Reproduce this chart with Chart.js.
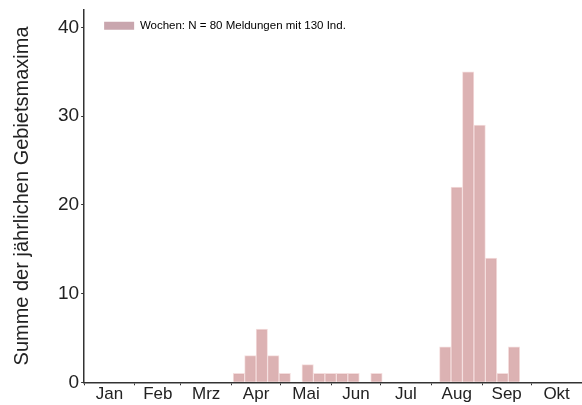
<!DOCTYPE html>
<html>
<head>
<meta charset="utf-8">
<script src="https://cdn.jsdelivr.net/npm/chart.js@4"></script>
<style>
  html, body { margin: 0; padding: 0; background: #fff; }
  #wrap { width: 582px; height: 405px; }
</style>
</head>
<body>
<div id="wrap"><canvas id="grafico"></canvas></div>
<script>
// ---- Daten ----
const monate = ["Jan", "Feb", "Mrz", "Apr", "Mai", "Jun", "Jul", "Aug", "Sep", "Okt"];
const monatsTage = [31, 28, 31, 30, 31, 30, 31, 31, 30, 31];
const wochen = [13, 14, 15, 16, 17, 19, 20, 21, 22, 23, 25, 31, 32, 33, 34, 35, 36, 37];
const summen = [1, 3, 6, 3, 1, 2, 1, 1, 1, 1, 1, 4, 22, 35, 29, 14, 1, 4];
const yTicks = [0, 10, 20, 30, 40];
const legendeText = "Wochen: N = 80 Meldungen mit 130 Ind.";
const yTitel = "Summe der jährlichen Gebietsmaxima";

// Monatsgrenzen und -mitten in Tagen
let grenzen = [0];
monatsTage.forEach(t => grenzen.push(grenzen[grenzen.length - 1] + t));
let mitten = monate.map((m, i) => (grenzen[i] + grenzen[i + 1]) / 2);
let ende = grenzen[grenzen.length - 1];

let punkte = wochen.map((w, i) => ({ x: w * 7 + 3.5, y: summen[i] }));

const schrift = "'Liberation Sans', Arial, sans-serif";

new Chart(document.getElementById("grafico"), {
    type: "bar",
    data: {
        datasets: [{
            label: legendeText,
            data: punkte,
            backgroundColor: "rgba(214,164,166,0.85)",
            borderColor: "rgba(244,222,222,1)",
            borderWidth: 1,
            barPercentage: 1,
            categoryPercentage: 1
        }]
    },
    options: {
        responsive: true,
        maintainAspectRatio: false,
        animation: false,
        layout: { padding: { left: 10, right: 0, top: 0, bottom: 1 } },
        plugins: {
            tooltip: { enabled: false },
            legend: {
                position: "chartArea",
                align: "start",
                labels: {
                    boxWidth: 30,
                    boxHeight: 8,
                    padding: 20,
                    color: "#222",
                    font: { family: schrift, size: 11.5 },
                    generateLabels: function (chart) {
                        return [{
                            text: legendeText,
                            fillStyle: "#c9a6ae",
                            strokeStyle: "#c9a6ae",
                            lineWidth: 0,
                            datasetIndex: 0
                        }];
                    }
                }
            }
        },
        scales: {
            x: {
                type: "linear",
                offset: false,
                min: 0,
                max: ende,
                position: "bottom",
                afterBuildTicks: s => { s.ticks = grenzen.map(v => ({ value: v })); },
                ticks: { display: false, padding: 0 },
                grid: { offset: false, drawOnChartArea: false, drawTicks: true, tickLength: 3, color: "#333" },
                border: { color: "#333", width: 1.5 }
            },
            x2: {
                type: "linear",
                offset: false,
                min: 0,
                max: ende,
                position: "bottom",
                afterBuildTicks: s => { s.ticks = mitten.map(v => ({ value: v })); },
                ticks: {
                    autoSkip: false,
                    maxRotation: 0,
                    padding: 0,
                    color: "#222",
                    font: { family: schrift, size: 17, lineHeight: 1.1 },
                    callback: (v, i) => monate[i]
                },
                grid: { display: false, drawTicks: false, tickLength: 0 },
                border: { display: false }
            },
            y: {
                min: 0,
                max: 42,
                afterBuildTicks: s => { s.ticks = yTicks.map(v => ({ value: v })); },
                ticks: {
                    padding: 2,
                    color: "#222",
                    font: { family: schrift, size: 19, lineHeight: 0.8 }
                },
                grid: { drawOnChartArea: false, tickLength: 3, color: "#333" },
                border: { color: "#333", width: 1.5 },
                title: {
                    display: true,
                    text: yTitel,
                    color: "#222",
                    padding: { top: 0, bottom: 22 },
                    font: { family: schrift, size: 20 }
                }
            }
        }
    }
});
</script>
</body>
</html>
